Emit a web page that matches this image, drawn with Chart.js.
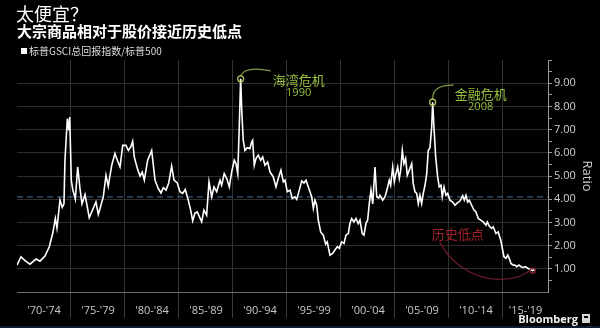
<!DOCTYPE html>
<html>
<head>
<meta charset="utf-8">
<script src="https://cdn.jsdelivr.net/npm/chart.js@4/dist/chart.umd.min.js"></script>
<style>
  html, body { margin: 0; padding: 0; background: #000; }
  #wrap { width: 600px; height: 328px; position: relative; }
</style>
</head>
<body>
<div id="wrap"><canvas id="c"></canvas></div>
<script>
// S&P GSCI total return index divided by the S&P 500
const years = [
  1970.00, 1970.37, 1970.74, 1971.20, 1971.76, 1972.13, 1972.59, 1972.99, 1973.31, 1973.55,
  1973.70, 1973.98, 1974.19, 1974.35, 1974.44, 1974.66, 1974.79, 1974.88, 1975.03, 1975.16,
  1975.40, 1975.62, 1975.83, 1976.02, 1976.30, 1976.69, 1977.31, 1977.53, 1977.69, 1977.99,
  1978.24, 1978.45, 1978.77, 1979.07, 1979.29, 1979.54, 1979.79, 1980.09, 1980.31, 1980.53,
  1980.71, 1980.86, 1981.14, 1981.39, 1981.60, 1981.79, 1982.10, 1982.47, 1982.78, 1983.08,
  1983.33, 1983.55, 1983.80, 1984.05, 1984.32, 1984.54, 1984.84, 1985.09, 1985.34, 1985.58,
  1985.86, 1986.08, 1986.27, 1986.48, 1986.69, 1987.10, 1987.31, 1987.56, 1987.78, 1988.03,
  1988.24, 1988.49, 1988.80, 1988.95, 1989.19, 1989.42, 1989.66, 1989.88, 1990.12, 1990.28,
  1990.44, 1990.58, 1990.71, 1990.81, 1990.95, 1991.11, 1991.32, 1991.57, 1991.73, 1991.82,
  1991.97, 1992.13, 1992.34, 1992.56, 1992.75, 1992.96, 1993.21, 1993.43, 1993.73, 1993.98,
  1994.19, 1994.44, 1994.66, 1994.81, 1995.03, 1995.28, 1995.49, 1995.74, 1995.90, 1996.14,
  1996.36, 1996.57, 1996.76, 1996.92, 1997.13, 1997.29, 1997.44, 1997.59, 1997.75, 1997.90,
  1998.12, 1998.36, 1998.58, 1998.73, 1998.98, 1999.23, 1999.44, 1999.66, 1999.84, 2000.06,
  2000.28, 2000.46, 2000.68, 2000.83, 2000.99, 2001.20, 2001.39, 2001.60, 2001.76, 2001.97,
  2002.13, 2002.31, 2002.47, 2002.62, 2002.78, 2002.94, 2003.15, 2003.31, 2003.49, 2003.61,
  2003.86, 2004.07, 2004.29, 2004.47, 2004.60, 2004.79, 2004.94, 2005.09, 2005.25, 2005.40,
  2005.53, 2005.68, 2005.83, 2005.99, 2006.14, 2006.32, 2006.55, 2006.69, 2006.85, 2007.01,
  2007.16, 2007.31, 2007.47, 2007.62, 2007.78, 2007.94, 2008.08, 2008.24, 2008.40, 2008.49,
  2008.61, 2008.77, 2008.95, 2009.10, 2009.26, 2009.38, 2009.54, 2009.72, 2009.88, 2010.09,
  2010.34, 2010.56, 2010.77, 2011.02, 2011.27, 2011.42, 2011.57, 2011.73, 2011.88, 2012.10,
  2012.31, 2012.50, 2012.71, 2012.94, 2013.18, 2013.43, 2013.55, 2013.73, 2013.95, 2014.10,
  2014.35, 2014.56, 2014.79, 2014.97, 2015.09, 2015.28, 2015.44, 2015.58, 2015.74, 2015.95,
  2016.11, 2016.27, 2016.48, 2016.67, 2016.88, 2017.10, 2017.29, 2017.50, 2017.75, 2017.96
];
const ratio = [
  1.16, 1.52, 1.35, 1.20, 1.42, 1.33, 1.55, 1.95, 2.53, 3.17,
  2.75, 3.96, 3.65, 3.80, 5.68, 7.47, 6.97, 7.54, 4.80, 4.43,
  4.00, 5.39, 4.47, 3.80, 4.20, 3.20, 3.88, 3.35, 3.60, 4.10,
  5.03, 4.56, 5.46, 5.97, 5.68, 5.39, 6.32, 6.32, 6.10, 6.25,
  6.50, 5.82, 5.33, 5.00, 5.17, 4.82, 5.68, 6.10, 4.82, 4.46,
  4.27, 4.50, 4.39, 4.70, 5.42, 4.82, 4.70, 4.32, 4.25, 4.42,
  3.96, 3.53, 3.07, 3.40, 3.45, 3.02, 3.53, 3.31, 4.75, 4.10,
  4.53, 4.32, 4.82, 4.60, 5.10, 4.89, 4.53, 5.18, 5.68, 5.53,
  5.10, 7.10, 9.19, 7.83, 6.54, 6.10, 6.22, 6.18, 6.47, 6.54,
  5.46, 5.75, 5.90, 5.68, 5.82, 5.46, 5.60, 5.17, 4.96, 4.53,
  4.89, 5.25, 4.75, 4.82, 4.32, 4.39, 4.03, 4.10, 3.99, 4.39,
  4.79, 4.70, 4.82, 4.60, 4.32, 4.10, 3.60, 3.96, 3.74, 3.10,
  2.59, 2.45, 2.06, 2.16, 1.59, 1.66, 1.81, 1.95, 1.88, 2.16,
  2.09, 2.45, 2.52, 2.95, 3.17, 3.02, 3.17, 2.95, 3.10, 2.52,
  2.45, 2.95, 3.10, 3.81, 4.39, 3.80, 5.39, 4.10, 4.05, 4.17,
  3.96, 4.10, 4.46, 4.82, 4.60, 5.39, 4.75, 5.10, 5.39, 4.89,
  5.25, 6.10, 5.53, 5.75, 5.03, 5.25, 5.53, 4.67, 4.32, 4.25,
  3.81, 4.17, 3.81, 4.25, 4.60, 5.10, 6.10, 6.22, 7.10, 8.18,
  7.10, 5.82, 4.96, 4.53, 4.60, 4.10, 4.53, 4.17, 4.25, 3.96,
  3.88, 3.74, 3.84, 3.92, 4.15, 3.96, 4.17, 3.88, 3.96, 3.74,
  3.53, 3.45, 3.17, 3.10, 3.02, 2.88, 3.02, 2.84, 2.74, 2.81,
  2.52, 2.59, 2.24, 1.81, 1.52, 1.45, 1.59, 1.45, 1.23, 1.16,
  1.16, 1.09, 1.16, 1.09, 1.06, 1.09, 1.02, 0.98, 0.92, 0.98
];
const averageRatio = 4.1;

const periodStarts = [1970, 1975, 1980, 1985, 1990, 1995, 2000, 2005, 2010, 2015];
const periodLabels = ["'70-'74", "'75-'79", "'80-'84", "'85-'89", "'90-'94",
                      "'95-'99", "'00-'04", "'05-'09", "'10-'14", "'15-'19"];
const yTickValues = [1, 2, 3, 4, 5, 6, 7, 8, 9];

const crises = [
  { name: '海湾危机', year: '1990', near: 1990.7 },
  { name: '金融危机', year: '2008', near: 2008.5 }
];
const lowLabel = '历史低点';

const titleText = '太便宜？';
const subtitleText = '大宗商品相对于股价接近历史低点';
const legendText = '标普GSCI总回报指数/标普500';

// ---- layout / styling ----
const X_MIN = 1970, X_MAX = 2019.17;
const LATIN = "'Open Sans', 'Noto Sans', sans-serif";
const CJK = "'Noto Sans CJK SC', 'Noto Sans', sans-serif";
const GREEN = '#96c03c';
const GREEN_DIM = '#7f9c48';
const RED = '#a3212b';
const RED_DIM = '#641a27';

const midOf = p => (p + Math.min(p + 5, X_MAX)) / 2;
const isBoundary = v => Number.isInteger(v) && v > X_MIN;

// callout offsets (pixels) relative to the marked point
const crisisLayout = [
  { arc: [[0, -3], [3, -10], [15, -11], [30, -8]], text: [58, 1.5], sub: [58, 14] },
  { arc: [[0, -3], [0, -13], [6, -17], [21, -17]], text: [48, -8.5], sub: [48, 4.5] }
];
const lowLayout = { arc: [[-93, -29], [-75, 8], [-28, 18], [-3, 0]], text: [-75, -37] };

function peakNear(yr) {
  let best = -1;
  for (let i = 0; i < years.length; i++) {
    if (Math.abs(years[i] - yr) <= 0.6 && (best < 0 || ratio[i] > ratio[best])) best = i;
  }
  return best;
}
function lowestRecent() {
  let best = -1;
  for (let i = 0; i < years.length; i++) {
    if (years[i] >= 2015 && (best < 0 || ratio[i] < ratio[best])) best = i;
  }
  return best;
}

const overlay = {
  id: 'overlay',
  beforeDraw(chart) {
    const ctx = chart.ctx;
    ctx.save();
    ctx.fillStyle = '#000';
    ctx.fillRect(0, 0, chart.width, chart.height);
    ctx.restore();
  },
  afterDatasetsDraw(chart) {
    const { ctx, scales: { x, y } } = chart;
    ctx.save();

    // crisis peaks
    crises.forEach((c, k) => {
      const i = peakNear(c.near);
      const px = x.getPixelForValue(years[i]);
      const py = y.getPixelForValue(ratio[i]);
      const L = crisisLayout[k];
      ctx.strokeStyle = GREEN_DIM;
      ctx.lineWidth = 1.2;
      ctx.beginPath();
      ctx.moveTo(px + L.arc[0][0], py + L.arc[0][1]);
      ctx.bezierCurveTo(px + L.arc[1][0], py + L.arc[1][1], px + L.arc[2][0], py + L.arc[2][1],
                        px + L.arc[3][0], py + L.arc[3][1]);
      ctx.stroke();
      ctx.strokeStyle = '#b9cc63';
      ctx.beginPath();
      ctx.arc(px, py, 3, 0, Math.PI * 2);
      ctx.stroke();
      ctx.fillStyle = GREEN;
      ctx.textAlign = 'center';
      ctx.textBaseline = 'middle';
      ctx.font = '13px ' + CJK;
      ctx.fillText(c.name, px + L.text[0], py + L.text[1]);
      ctx.font = '11px ' + LATIN;
      ctx.fillText(c.year, px + L.sub[0], py + L.sub[1]);
    });

    // recent low
    const j = lowestRecent();
    const lx = x.getPixelForValue(years[j]);
    const ly = y.getPixelForValue(ratio[j]);
    const A = lowLayout.arc;
    ctx.strokeStyle = RED_DIM;
    ctx.lineWidth = 1.3;
    ctx.beginPath();
    ctx.moveTo(lx + A[0][0], ly + A[0][1]);
    ctx.bezierCurveTo(lx + A[1][0], ly + A[1][1], lx + A[2][0], ly + A[2][1], lx + A[3][0], ly + A[3][1]);
    ctx.stroke();
    ctx.strokeStyle = '#8e2a38';
    ctx.beginPath();
    ctx.arc(lx, ly, 2.5, 0, Math.PI * 2);
    ctx.stroke();
    ctx.fillStyle = RED;
    ctx.font = '13px ' + CJK;
    ctx.textAlign = 'center';
    ctx.textBaseline = 'middle';
    ctx.fillText(lowLabel, lx + lowLayout.text[0], ly + lowLayout.text[1]);
    ctx.restore();
  },
  afterDraw(chart) {
    const ctx = chart.ctx;
    ctx.save();
    ctx.textAlign = 'left';
    ctx.textBaseline = 'top';
    ctx.fillStyle = '#ffffff';
    ctx.font = '18px ' + CJK;
    ctx.fillText(titleText, 16, 5);
    ctx.font = 'bold 15px ' + CJK;
    ctx.fillText(subtitleText, 17, 24);
    // legend swatch + label
    ctx.fillStyle = '#ffffff';
    ctx.fillRect(21, 48, 6, 6);
    ctx.fillStyle = '#dddddd';
    ctx.font = '10px ' + CJK;
    ctx.textBaseline = 'middle';
    ctx.fillText(legendText, 29, 51.5);
    // footer
    ctx.fillStyle = '#0f1d30';
    ctx.fillRect(0, 326, 600, 2);
    ctx.fillStyle = '#f2f2f2';
    ctx.font = 'bold 11px ' + LATIN;
    ctx.textAlign = 'right';
    ctx.textBaseline = 'alphabetic';
    ctx.fillText('Bloomberg', 578, 323);
    ctx.fillStyle = '#d8d8d8';
    ctx.fillRect(582, 314, 8, 9);
    ctx.fillStyle = '#000';
    ctx.fillRect(584, 316, 4, 2);
    ctx.restore();
  }
};

new Chart(document.getElementById('c'), {
  type: 'line',
  data: {
    datasets: [
      {
        data: years.map((yr, i) => ({ x: yr, y: ratio[i] })),
        borderColor: '#ffffff',
        borderWidth: 1.6,
        pointRadius: 0,
        tension: 0
      },
      {
        data: [{ x: X_MIN, y: averageRatio }, { x: X_MAX, y: averageRatio }],
        borderColor: '#34597f',
        borderWidth: 1.2,
        borderDash: [6, 4],
        pointRadius: 0
      }
    ]
  },
  options: {
    responsive: true,
    maintainAspectRatio: false,
    animation: false,
    events: [],
    layout: { padding: { left: 17, top: 60, right: 0, bottom: 0 } },
    plugins: { legend: { display: false }, tooltip: { enabled: false }, title: { display: false } },
    scales: {
      x: {
        type: 'linear',
        min: X_MIN,
        max: X_MAX,
        afterBuildTicks: s => {
          const t = [];
          periodStarts.forEach((p, i) => {
            if (i > 0) t.push({ value: p });
            t.push({ value: midOf(p) });
          });
          s.ticks = t.sort((a, b) => a.value - b.value);
        },
        afterFit: s => { s.height = 36; },
        ticks: {
          autoSkip: false,
          maxRotation: 0,
          padding: -14,
          color: '#c8c8c8',
          font: { size: 11, family: LATIN },
          callback: v => {
            const k = periodStarts.findIndex(p => Math.abs(midOf(p) - v) < 1e-6);
            return k >= 0 ? periodLabels[k] : '';
          }
        },
        grid: {
          color: c => (c.tick && isBoundary(c.tick.value)) ? '#333333' : 'transparent',
          tickColor: c => (c.tick && isBoundary(c.tick.value)) ? '#3c3c3c' : 'transparent',
          tickLength: 26
        },
        border: { color: '#6a6a6a' }
      },
      y: {
        position: 'right',
        min: 0,
        max: 10,
        afterBuildTicks: s => {
          const t = [];
          for (let v = 0; v <= 10; v += 0.5) t.push({ value: v });
          s.ticks = t;
        },
        afterFit: s => { s.width = 52; },
        ticks: {
          autoSkip: false,
          padding: 2,
          color: '#cfcfcf',
          font: { size: 11, family: LATIN },
          callback: v => yTickValues.includes(v) ? v.toFixed(2) : ''
        },
        grid: {
          color: c => (c.tick && yTickValues.includes(c.tick.value)) ? '#2e2e2e' : 'transparent',
          tickColor: c => (c.tick && c.tick.value === 0) ? 'transparent' : '#9a9a9a',
          tickLength: 4
        },
        border: { color: '#9a9a9a' },
        title: {
          display: true,
          text: 'Ratio',
          color: '#cfcfcf',
          font: { size: 13, family: LATIN },
          padding: { top: 5, bottom: 0 }
        }
      }
    }
  },
  plugins: [overlay]
});
</script>
</body>
</html>
